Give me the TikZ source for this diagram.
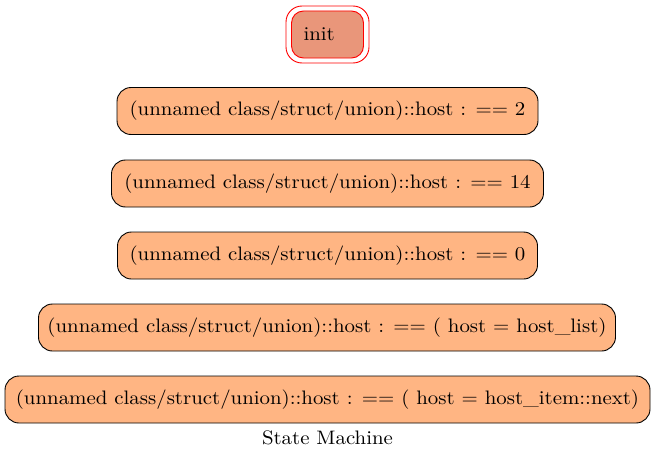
\documentclass[tikz,border=0pt]{standalone}
\usepackage{fontspec}
\setmainfont{lmroman10-regular.otf}[FakeStretch=1.07]
\definecolor{statefill}{RGB}{255,181,131}
\definecolor{initfill}{RGB}{233,150,122}
\begin{document}
\begin{tikzpicture}[x=1pt,y=-1pt,
  labelfont/.style={font=\fontsize{19.5}{24}\selectfont},
  statebox/.style={draw=black, line width=0.9pt, fill=statefill, rounded corners=14pt,
    minimum height=47pt, inner xsep=0pt, labelfont},
  initbox/.style={draw=red, line width=0.9pt, fill=initfill, rounded corners=12pt,
    minimum height=47pt, text width=48pt, align=left, inner xsep=12pt, inner ysep=0pt, labelfont},
  initring/.style={draw=red, line width=0.9pt, rounded corners=16pt,
    minimum width=83pt, minimum height=57pt}]
  \useasboundingbox (0,0) rectangle (655,460);
  % initial state with a double red outline
  \node[initring] (initouter) at (327.5,34.5) {};
  \node[initbox] (init) at (327.5,34.5) {init};
  \node[statebox, minimum width=421pt] (s1) at (327.5,111) {(unnamed class/struct/union)::host : == 2};
  \node[statebox, minimum width=432pt] (s2) at (327.5,183.5) {(unnamed class/struct/union)::host : == 14};
  \node[statebox, minimum width=420pt] (s3) at (327.5,255.5) {(unnamed class/struct/union)::host : == 0};
  \node[statebox, minimum width=577pt] (s4) at (327,327.5) {(unnamed class/struct/union)::host : == ( host = host\_list)};
  \node[statebox, minimum width=645pt] (s5) at (327.5,399.5) {(unnamed class/struct/union)::host : == ( host = host\_item::next)};
  \node[labelfont] (caption) at (327.5,438) {State Machine};
\end{tikzpicture}
\end{document}
